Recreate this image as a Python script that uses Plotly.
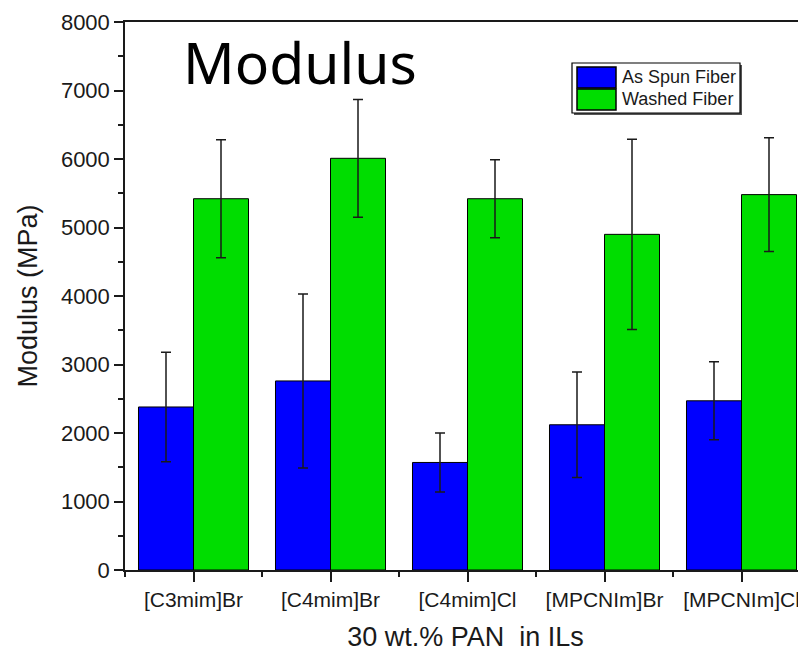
import plotly.graph_objects as go

categories = ["[C3mim]Br", "[C4mim]Br", "[C4mim]Cl", "[MPCNIm]Br", "[MPCNIm]Cl"]
as_spun = [2380, 2760, 1570, 2120, 2470]
as_spun_err = [800, 1270, 430, 770, 570]
washed = [5420, 6010, 5420, 4900, 5480]
washed_err = [860, 860, 570, 1390, 830]
series_names = ["As Spun Fiber", "Washed Fiber"]
series_colors = ["#0000ff", "#00dd00"]
y_ticks = [0, 1000, 2000, 3000, 4000, 5000, 6000, 7000, 8000]

x = list(range(len(categories)))
font = "Liberation Sans, Arial, sans-serif"

# page has an 8px body margin; figure spans 798x648
W, H = 798, 648
ML, MT, MB, MR = 117, 14, 86, 0
PW, PH = W - ML - MR, H - MT - MB


def px(sx):
    return (sx - 8 - ML) / PW


def py(sy):
    return (H - MB - (sy - 8)) / PH


fig = go.Figure()
for name, vals, errs, col in zip(series_names, [as_spun, washed], [as_spun_err, washed_err], series_colors):
    fig.add_trace(go.Bar(
        x=x, y=vals, name=name,
        marker=dict(color=col, line=dict(color="black", width=1)),
        error_y=dict(type="data", array=errs, color="#1a1a1a", thickness=1.5, width=5),
    ))

fig.update_layout(
    width=W, height=H,
    margin=dict(l=ML, r=MR, t=MT, b=MB),
    paper_bgcolor="white", plot_bgcolor="white",
    barmode="group", bargap=0.197, bargroupgap=0,
    font=dict(family=font, color="#1a1a1a", size=21),
    showlegend=False,
)
fig.update_xaxes(
    range=[-0.5, -0.5 + PW / 137.0], tickvals=x, ticktext=categories,
    showline=True, linecolor="#1a1a1a", linewidth=1.5, mirror=True,
    ticks="outside", ticklen=10, tickwidth=1.5, tickcolor="#1a1a1a",
    minor=dict(tickvals=[i + 0.5 for i in range(-1, len(categories))], ticks="outside",
               ticklen=5, tickwidth=1.5, tickcolor="#1a1a1a"),
    showgrid=False, zeroline=False,
    tickfont=dict(size=21),
    title=dict(text="30 wt.% PAN  in ILs", font=dict(size=27), standoff=17),
)
fig.update_yaxes(
    range=[0, 8000], tickvals=y_ticks,
    showline=True, linecolor="#1a1a1a", linewidth=1.5,
    ticks="outside", ticklen=9, tickwidth=1.5, tickcolor="#1a1a1a",
    minor=dict(dtick=500, ticks="outside", ticklen=5, tickwidth=1.5, tickcolor="#1a1a1a"),
    showgrid=False, zeroline=False,
    tickfont=dict(size=22),
    title=dict(text="Modulus (MPa)", font=dict(size=27), standoff=15),
)

# title
fig.add_annotation(
    text="Modulus", xref="paper", yref="paper", x=px(181), y=py(62),
    xanchor="left", yanchor="middle", showarrow=False,
    font=dict(size=57, family="Noto Sans, Open Sans, sans-serif", color="black"),
)

# custom legend
fig.add_shape(type="rect", xref="paper", yref="paper",
              x0=px(574), x1=px(742), y0=py(115), y1=py(65),
              fillcolor="#555", line=dict(width=0), layer="above")
fig.add_shape(type="rect", xref="paper", yref="paper",
              x0=px(572), x1=px(740), y0=py(113), y1=py(63),
              fillcolor="white", line=dict(color="black", width=1.2), layer="above")
rows = [(67, 88), (89, 110)]
for (y0, y1), name, col in zip(rows, series_names, series_colors):
    fig.add_shape(type="rect", xref="paper", yref="paper",
                  x0=px(577), x1=px(616), y0=py(y1), y1=py(y0),
                  fillcolor=col, line=dict(color="black", width=1.5), layer="above")
    fig.add_annotation(text=name, xref="paper", yref="paper",
                       x=px(620), y=py((y0 + y1) / 2), xanchor="left", yanchor="middle",
                       showarrow=False, font=dict(size=18, family=font, color="#1a1a1a"))

fig.write_html("out.html")
